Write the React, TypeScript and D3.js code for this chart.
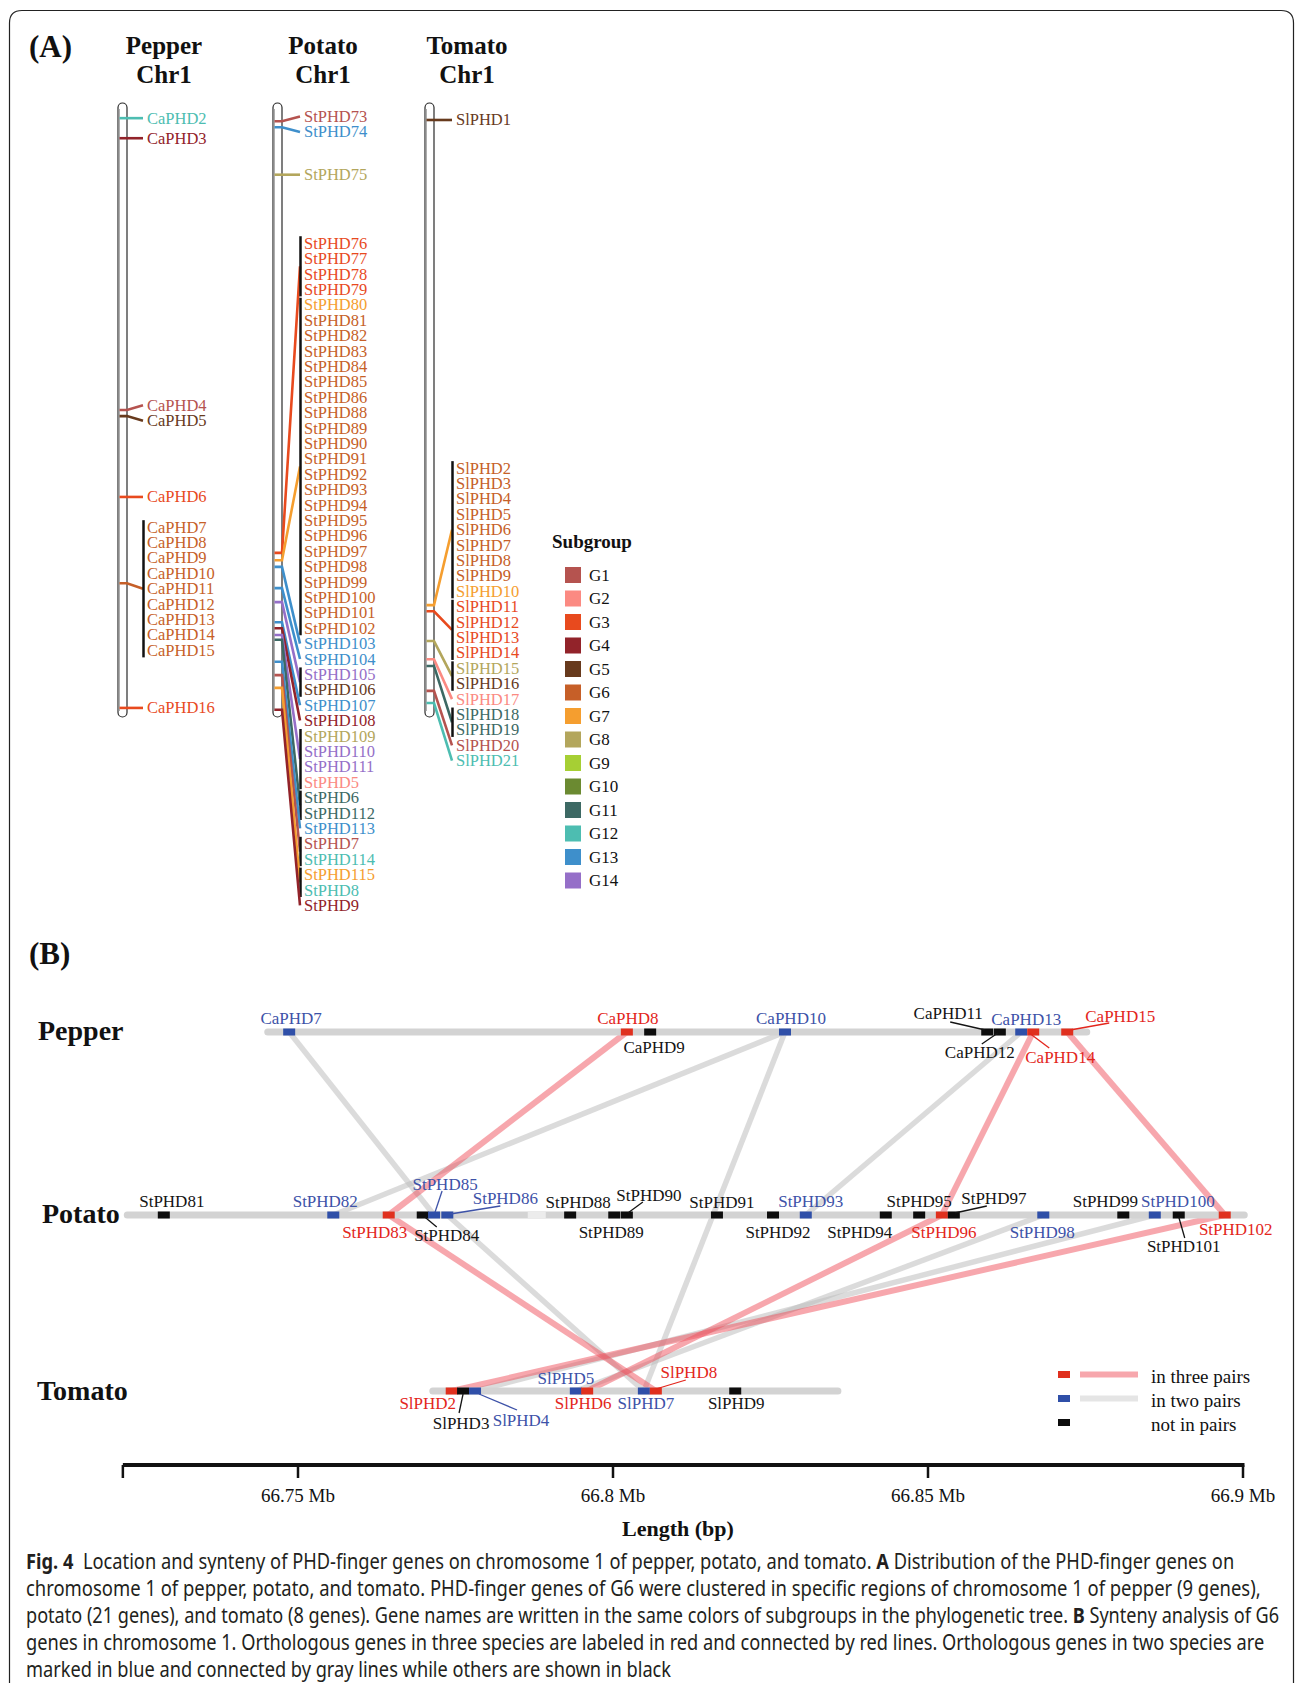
import React from "react";
import * as d3 from "d3";

// ---------------- Subgroups ----------------
const subgroupNames = ["G1","G2","G3","G4","G5","G6","G7","G8","G9","G10","G11","G12","G13","G14"];
const subgroupColors = ["#b5534f","#fb8a82","#e84a1e","#92232a","#673a1d","#c65f28","#f59e2f","#b3a65c","#a6cf34","#6b8a31","#3d6964","#4dbdb1","#3e8fcb","#956fc8"];

// ---------------- Panel A data (position = % along chromosome 1) ----------------
const pepperGenes = ["CaPHD2","CaPHD3","CaPHD4","CaPHD5","CaPHD6","CaPHD7","CaPHD8","CaPHD9","CaPHD10","CaPHD11","CaPHD12","CaPHD13","CaPHD14","CaPHD15","CaPHD16"];
const pepperSubgroups = [12,4,1,5,3,6,6,6,6,6,6,6,6,6,3];
const pepperPosition = [2.0,5.3,50.0,51.0,64.3,78.5,78.5,78.5,78.5,78.5,78.5,78.5,78.5,78.5,99.0];
const pepperClusterLine = [12,4,1,5,3,6,3];

const potatoGenes = ["StPHD73","StPHD74","StPHD75","StPHD76","StPHD77","StPHD78","StPHD79","StPHD80","StPHD81","StPHD82","StPHD83","StPHD84","StPHD85","StPHD86","StPHD88","StPHD89","StPHD90","StPHD91","StPHD92","StPHD93","StPHD94","StPHD95","StPHD96","StPHD97","StPHD98","StPHD99","StPHD100","StPHD101","StPHD102","StPHD103","StPHD104","StPHD105","StPHD106","StPHD107","StPHD108","StPHD109","StPHD110","StPHD111","StPHD5","StPHD6","StPHD112","StPHD113","StPHD7","StPHD114","StPHD115","StPHD8","StPHD9"];
const potatoSubgroups = [1,13,8,3,3,3,3,7,6,6,6,6,6,6,6,6,6,6,6,6,6,6,6,6,6,6,6,6,6,13,13,14,5,13,4,8,14,14,2,11,11,13,1,12,7,12,4];
const potatoPosition = [2.5,3.5,11.3,73.5,73.5,73.5,73.5,74.7,74.7,74.7,74.7,74.7,74.7,74.7,74.7,74.7,74.7,74.7,74.7,74.7,74.7,74.7,74.7,74.7,74.7,74.7,74.7,74.7,74.7,75.8,79.3,81.6,81.6,84.9,85.9,87.0,87.0,87.0,87.0,87.8,87.8,91.4,93.6,93.6,95.7,95.7,99.3];
const potatoClusterLine = [1,13,8,3,7,13,13,14,13,4,14,11,13,1,7,4];

const tomatoGenes = ["SlPHD1","SlPHD2","SlPHD3","SlPHD4","SlPHD5","SlPHD6","SlPHD7","SlPHD8","SlPHD9","SlPHD10","SlPHD11","SlPHD12","SlPHD13","SlPHD14","SlPHD15","SlPHD16","SlPHD17","SlPHD18","SlPHD19","SlPHD20","SlPHD21"];
const tomatoSubgroups = [5,6,6,6,6,6,6,6,6,7,3,3,3,3,8,5,2,11,11,1,12];
const tomatoPosition = [2.3,82.1,82.1,82.1,82.1,82.1,82.1,82.1,82.1,82.1,83.1,83.1,83.1,83.1,88.0,88.0,91.0,92.1,92.1,96.2,98.2];
const tomatoClusterLine = [5,7,3,8,2,11,1,12];

// ---------------- Panel B data (Mb) ----------------
const pepperSynGenes = ["CaPHD7","CaPHD8","CaPHD9","CaPHD10","CaPHD11","CaPHD12","CaPHD13","CaPHD14","CaPHD15"];
const pepperSynMb = [66.7486,66.8022,66.8059,66.8273,66.8594,66.8614,66.8648,66.8667,66.8721];
const pepperSynStatus = ["two","three","none","two","none","none","two","three","three"];

const potatoSynGenes = ["StPHD81","StPHD82","StPHD83","StPHD84","StPHD85","StPHD86","StPHD88","StPHD89","StPHD90","StPHD91","StPHD92","StPHD93","StPHD94","StPHD95","StPHD96","StPHD97","StPHD98","StPHD99","StPHD100","StPHD101","StPHD102"];
const potatoSynMb = [66.7287,66.7556,66.7644,66.7698,66.7716,66.7737,66.7932,66.8002,66.8022,66.8165,66.8254,66.8306,66.8433,66.8486,66.8522,66.8541,66.8683,66.8810,66.8860,66.8898,66.8971];
const potatoSynStatus = ["none","two","three","none","two","two","none","none","none","none","none","two","none","none","three","none","two","none","two","none","three"];
const potatoFaintMb = [66.7879];

const tomatoSynGenes = ["SlPHD2","SlPHD3","SlPHD4","SlPHD5","SlPHD6","SlPHD7","SlPHD8","SlPHD9"];
const tomatoSynMb = [66.7744,66.7762,66.7781,66.7941,66.7959,66.8049,66.8068,66.8194];
const tomatoSynStatus = ["three","none","two","two","three","two","three","none"];

const pepperTrackMb = [66.7452, 66.8752];
const potatoTrackMb = [66.7229, 66.9002];
const tomatoTrackMb = [66.7714, 66.8357];

const threePairLinks = [["CaPHD8","StPHD83"],["CaPHD14","StPHD96"],["CaPHD15","StPHD102"],["StPHD83","SlPHD8"],["StPHD96","SlPHD6"],["StPHD102","SlPHD2"]];
const twoPairLinks = [["CaPHD7","StPHD85"],["CaPHD10","StPHD82"],["CaPHD13","StPHD93"],["CaPHD10","SlPHD7"],["StPHD86","SlPHD7"],["StPHD98","SlPHD5"],["StPHD100","SlPHD4"]];

const axisStartMb = 66.7222;
const axisTicks = [66.75, 66.8, 66.85, 66.9];
const axisTickLabels = ["66.75 Mb", "66.8 Mb", "66.85 Mb", "66.9 Mb"];
const legendBLabels = ["in three pairs", "in two pairs", "not in pairs"];
const legendBStatus = ["three", "two", "none"];

// ---------------- layout constants (not data) ----------------
type Off = [number, number, number[] | null];
const pepperLabelOff: Off[] = [[2,-14,null],[1,-14,null],[4,15,null],[6,-14,null],[-39,-19,[-2,-2,-37,-10]],[-20,20,[-2,1,-18,12]],[5,-13,null],[27,25,[-4,1,16,16]],[53,-16,[3,-2,42,-9]]];
const potatoLabelOff: Off[] = [[8,-14,null],[-8,-14,null],[-14,17,null],[24,20,[2,2,14,12]],[11,-31,[1,-3,8,-24]],[58,-17,[3,-1,53,-9]],[8,-13,null],[-3,17,null],[22,-20,[1,-2,16,-13]],[5,-13,null],[5,17,null],[5,-14,null],[-26,17,null],[0,-14,null],[2,17,null],[40,-17,[1,-2,33,-9]],[-1,17,null],[-18,-14,null],[23,-14,null],[5,31,[0,2,6,23]],[11,14,null]];
const tomatoLabelOff: Off[] = [[-24,12,null],[-2,32,[0,3,-4,22]],[46,29,[4,3,42,19]],[-10,-13,null],[-4,12,null],[2,12,null],[33,-19,[0,-2,30,-11]],[1,12,null]];
const captionWidths = [1373, 1403, 1424, 1407, 733];

const boxColor: Record<string, string> = { three: "#e0301e", two: "#2f4fa8", none: "#0d0d0d" };
const textColor: Record<string, string> = { three: "#e3261c", two: "#3d52a8", none: "#141414" };

const SERIF = "'Liberation Serif', 'Times New Roman', serif";

function clusterize(pos: number[]) {
  const clusters: { pos: number; items: number[] }[] = [];
  pos.forEach((p, i) => {
    const last = clusters[clusters.length - 1];
    if (last && last.pos === p) last.items.push(i);
    else clusters.push({ pos: p, items: [i] });
  });
  return clusters;
}

function layoutLabels(centers: number[], counts: number[], gap: number, bigShift: number) {
  type B = { idx: number[]; sumY: number; n: number; top: number };
  const blocks: B[] = [];
  centers.forEach((c, i) => {
    const n = counts[i];
    blocks.push({ idx: [i], sumY: c * n, n, top: c - ((n - 1) * gap) / 2 });
    while (blocks.length > 1) {
      const a = blocks[blocks.length - 2];
      const z = blocks[blocks.length - 1];
      if (z.top < a.top + a.n * gap) {
        const m: B = { idx: [...a.idx, ...z.idx], sumY: a.sumY + z.sumY, n: a.n + z.n, top: 0 };
        m.top = m.sumY / m.n - ((m.n - 1) * gap) / 2;
        blocks.splice(blocks.length - 2, 2, m);
      } else break;
    }
  });
  const out: number[][] = [];
  blocks.forEach((b) => {
    const top = b.top + (b.n >= 5 ? bigShift : 0);
    let k = 0;
    b.idx.forEach((ci) => {
      const arr: number[] = [];
      for (let j = 0; j < counts[ci]; j++) { arr.push(top + k * gap); k++; }
      out[ci] = arr;
    });
  });
  return out;
}

const yA = d3.scaleLinear().domain([0, 100]).range([106, 714]);

function ChromColumn(props: { title: string; names: string[]; groups: number[]; pos: number[]; lines: number[]; chromX: number; labelX: number; titleX: number; shift: number }) {
  const { title, names, groups, pos, lines, chromX, labelX, titleX, shift } = props;
  const clusters = clusterize(pos);
  const centers = clusters.map((c) => yA(c.pos));
  const counts = clusters.map((c) => c.items.length);
  const labelYs = layoutLabels(centers, counts, 15.4, shift);
  const cw = 9;
  return (
    <g>
      <text x={titleX} y={54} textAnchor="middle" fontWeight="bold" fontSize={25} fill="#111">{title}</text>
      <text x={titleX} y={83} textAnchor="middle" fontWeight="bold" fontSize={25} fill="#111">Chr1</text>
      <rect x={chromX} y={103} width={cw} height={614} rx={4.5} fill="#fff" stroke="#2a2a2a" strokeWidth={1.2} />
      <line x1={chromX + 0.9} x2={chromX + 0.9} y1={109} y2={711} stroke="#8c8c8c" strokeWidth={1.6} />
      {clusters.map((c, ci) => {
        const yc = centers[ci];
        const ys = labelYs[ci];
        const ly = (ys[0] + ys[ys.length - 1]) / 2;
        const col = subgroupColors[lines[ci] - 1];
        return (
          <g key={"c" + ci}>
            <path d={`M${chromX + 1.5},${yc} H${chromX + cw} L${labelX - 4},${ly}`} fill="none" stroke={col} strokeWidth={2.6} />
            {ys.length > 1 && (
              <line x1={labelX - 3.5} x2={labelX - 3.5} y1={ys[0] - 7} y2={ys[ys.length - 1] + 7} stroke="#111" strokeWidth={2.5} />
            )}
            {c.items.map((gi, j) => (
              <text key={names[gi]} x={labelX} y={ys[j]} dominantBaseline="central" fontSize={16.5} fill={subgroupColors[groups[gi] - 1]}>{names[gi]}</text>
            ))}
          </g>
        );
      })}
    </g>
  );
}

export default function App() {
  const xB = d3.scaleLinear().domain([66.75, 66.9]).range([298, 1243]);
  const trackY = { pepper: 1032, potato: 1215, tomato: 1391 };

  const species = [
    { key: "pepper", genes: pepperSynGenes, mb: pepperSynMb, status: pepperSynStatus, off: pepperLabelOff, y: trackY.pepper, track: pepperTrackMb },
    { key: "potato", genes: potatoSynGenes, mb: potatoSynMb, status: potatoSynStatus, off: potatoLabelOff, y: trackY.potato, track: potatoTrackMb },
    { key: "tomato", genes: tomatoSynGenes, mb: tomatoSynMb, status: tomatoSynStatus, off: tomatoLabelOff, y: trackY.tomato, track: tomatoTrackMb },
  ];
  const pos: Record<string, { x: number; y: number }> = {};
  species.forEach((s) => s.genes.forEach((g, i) => { pos[g] = { x: xB(s.mb[i]), y: s.y }; }));

  const legendY0 = 567;
  const capY = [1569.5, 1596.5, 1623.5, 1650.5, 1677];

  return (
    <svg width={1295} height={1683} viewBox="0 0 1295 1683" style={{ position: "absolute", left: 0, top: 0, background: "#fff" }} fontFamily={SERIF}>
      <rect x={0} y={0} width={1295} height={1683} fill="#fff" />
      <path d="M9.5,1700 V23 Q9.5,10.5 22,10.5 H1281 Q1293.5,10.5 1293.5,23 V1700" fill="none" stroke="#222" strokeWidth={1.2} />

      {/* ---------- Panel A ---------- */}
      <text x={29} y={57} fontWeight="bold" fontSize={31} fill="#111">(A)</text>
      <ChromColumn title="Pepper" names={pepperGenes} groups={pepperSubgroups} pos={pepperPosition} lines={pepperClusterLine} chromX={118} labelX={147} titleX={164} shift={5.5} />
      <ChromColumn title="Potato" names={potatoGenes} groups={potatoSubgroups} pos={potatoPosition} lines={potatoClusterLine} chromX={273} labelX={304} titleX={323} shift={-18} />
      <ChromColumn title="Tomato" names={tomatoGenes} groups={tomatoSubgroups} pos={tomatoPosition} lines={tomatoClusterLine} chromX={425} labelX={456} titleX={467} shift={-13.5} />

      <text x={552} y={548} fontWeight="bold" fontSize={19} fill="#111">Subgroup</text>
      {subgroupNames.map((g, i) => (
        <g key={g}>
          <rect x={565} y={legendY0 + i * 23.5} width={16} height={16} fill={subgroupColors[i]} />
          <text x={589} y={legendY0 + i * 23.5 + 8} dominantBaseline="central" fontSize={17} fill="#111">{g}</text>
        </g>
      ))}

      {/* ---------- Panel B ---------- */}
      <text x={29} y={964} fontWeight="bold" fontSize={31} fill="#111">(B)</text>
      <text x={38} y={1030} dominantBaseline="central" fontWeight="bold" fontSize={28} fill="#111">Pepper</text>
      <text x={42} y={1213} dominantBaseline="central" fontWeight="bold" fontSize={28} fill="#111">Potato</text>
      <text x={37} y={1390} dominantBaseline="central" fontWeight="bold" fontSize={28} fill="#111">Tomato</text>

      {/* links */}
      {twoPairLinks.map(([a, b], i) => (
        <line key={"g" + i} x1={pos[a].x} y1={pos[a].y} x2={pos[b].x} y2={pos[b].y} stroke="#bdbdbd" strokeOpacity={0.55} strokeWidth={5.5} />
      ))}
      {threePairLinks.map(([a, b], i) => (
        <line key={"r" + i} x1={pos[a].x} y1={pos[a].y} x2={pos[b].x} y2={pos[b].y} stroke="#f0505c" strokeOpacity={0.5} strokeWidth={6} />
      ))}

      {/* tracks */}
      {species.map((s) => (
        <line key={"t" + s.key} x1={xB(s.track[0])} x2={xB(s.track[1])} y1={s.y} y2={s.y} stroke="#d3d3d3" strokeWidth={7} strokeLinecap="round" />
      ))}
      {potatoFaintMb.map((m, i) => (
        <rect key={"f" + i} x={xB(m) - 9} y={trackY.potato - 3.5} width={18} height={7} fill="#ececec" />
      ))}

      {/* genes */}
      {species.map((s) =>
        s.genes.map((g, i) => {
          const x = xB(s.mb[i]);
          const st = s.status[i];
          const [dx, dy, lead] = s.off[i];
          return (
            <g key={g}>
              <rect x={x - 6} y={s.y - 3.5} width={12} height={7} fill={boxColor[st]} />
              {lead && (
                <line x1={x + lead[0]} y1={s.y + lead[1]} x2={x + lead[2]} y2={s.y + lead[3]} stroke={textColor[st]} strokeWidth={1.3} />
              )}
              <text x={x + dx} y={s.y + dy} textAnchor="middle" dominantBaseline="central" fontSize={17} fill={textColor[st]}>{g}</text>
            </g>
          );
        })
      )}

      {/* legend B */}
      {legendBLabels.map((l, i) => (
        <g key={l}>
          <rect x={1058} y={1371 + i * 24} width={12} height={7} fill={boxColor[legendBStatus[i]]} />
          {i < 2 && (
            <line x1={1080} x2={1138} y1={1374.5 + i * 24} y2={1374.5 + i * 24} stroke={i === 0 ? "#f0505c" : "#bdbdbd"} strokeOpacity={i === 0 ? 0.5 : 0.4} strokeWidth={6} />
          )}
          <text x={1151} y={1376 + i * 24} dominantBaseline="central" fontSize={19} fill="#111">{l}</text>
        </g>
      ))}

      {/* axis */}
      <line x1={xB(axisStartMb)} x2={xB(66.9) + 1.5} y1={1465} y2={1465} stroke="#111" strokeWidth={4} />
      {[axisStartMb, ...axisTicks].map((t, i) => (
        <line key={"tk" + i} x1={xB(t)} x2={xB(t)} y1={1465} y2={1478} stroke="#111" strokeWidth={2.5} />
      ))}
      {axisTicks.map((t, i) => (
        <text key={"tl" + i} x={xB(t)} y={1495} textAnchor="middle" dominantBaseline="central" fontSize={19} fill="#111">{axisTickLabels[i]}</text>
      ))}
      <text x={678} y={1528} textAnchor="middle" dominantBaseline="central" fontWeight="bold" fontSize={22} fill="#111">Length (bp)</text>

      {/* caption */}
      <g transform="translate(26,0) scale(0.88,1)" fontFamily="'Noto Sans', 'Open Sans', sans-serif" fontSize={21} fill="#231f20">
        <text x={0} y={capY[0]} textLength={captionWidths[0]} lengthAdjust="spacingAndGlyphs"><tspan fontWeight="bold">Fig. 4</tspan>{"\u00a0\u00a0Location and synteny of PHD-finger genes on chromosome 1 of pepper, potato, and tomato. "}<tspan fontWeight="bold">A</tspan>{" Distribution of the PHD-finger genes on"}</text>
        <text x={0} y={capY[1]} textLength={captionWidths[1]} lengthAdjust="spacingAndGlyphs">chromosome 1 of pepper, potato, and tomato. PHD-finger genes of G6 were clustered in specific regions of chromosome 1 of pepper (9 genes),</text>
        <text x={0} y={capY[2]} textLength={captionWidths[2]} lengthAdjust="spacingAndGlyphs">{"potato (21 genes), and tomato (8 genes). Gene names are written in the same colors of subgroups in the phylogenetic tree. "}<tspan fontWeight="bold">B</tspan>{" Synteny analysis of G6"}</text>
        <text x={0} y={capY[3]} textLength={captionWidths[3]} lengthAdjust="spacingAndGlyphs">genes in chromosome 1. Orthologous genes in three species are labeled in red and connected by red lines. Orthologous genes in two species are</text>
        <text x={0} y={capY[4]} textLength={captionWidths[4]} lengthAdjust="spacingAndGlyphs">marked in blue and connected by gray lines while others are shown in black</text>
      </g>
    </svg>
  );
}
